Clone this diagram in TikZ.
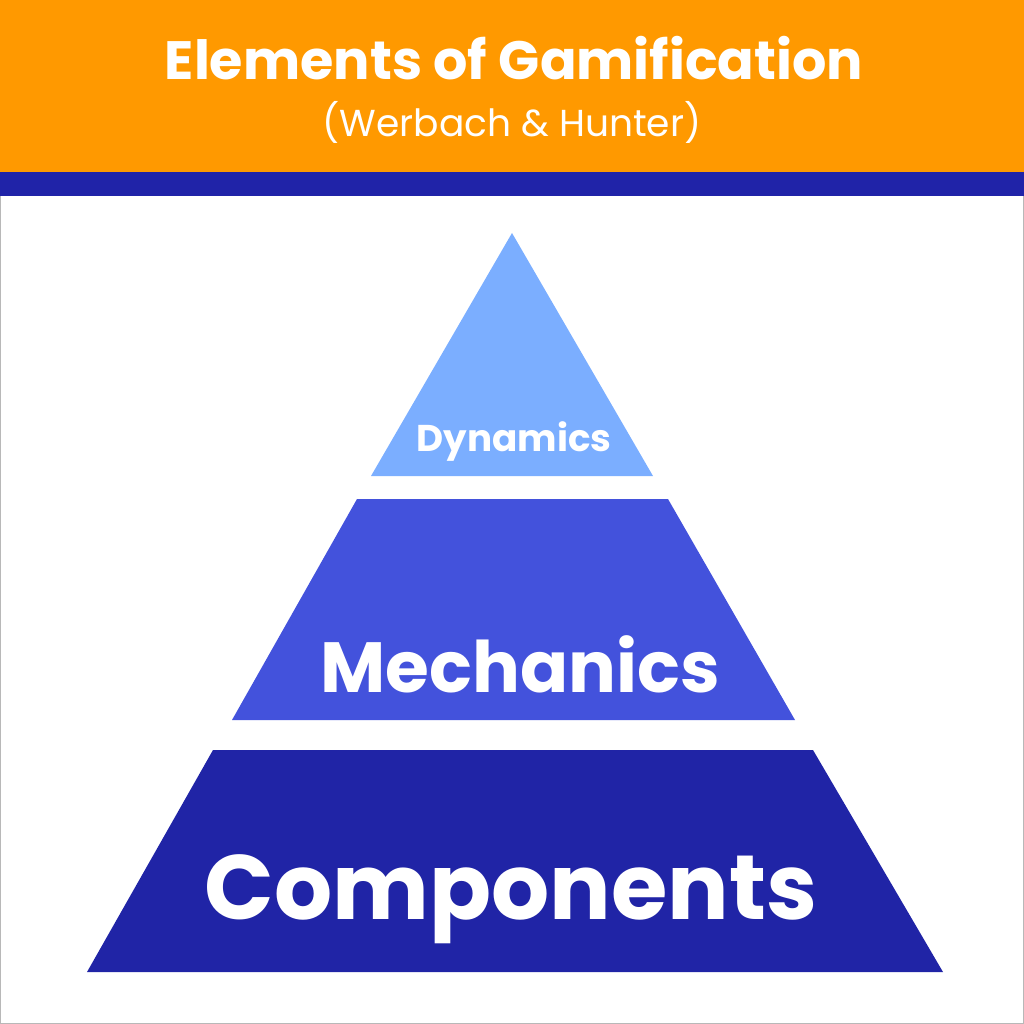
\documentclass[tikz,border=0pt]{standalone}
\usepackage{fontspec}
\setmainfont{Poppins}
\usetikzlibrary{shapes}

\definecolor{headorange}{RGB}{255,153,0}
\definecolor{stripeblue}{RGB}{32,35,168}
\definecolor{levelone}{RGB}{123,174,255}
\definecolor{leveltwo}{RGB}{67,82,220}
\definecolor{levelthree}{RGB}{32,36,166}

\tikzset{
  label text/.style={text=white, font=\bfseries, anchor=base, inner sep=0pt},
  level box/.style={draw=none}
}

\begin{document}
\begin{tikzpicture}[x=0.025cm, y=-0.025cm]
\useasboundingbox (0,0) rectangle (1024,1024);
\draw [color=black!28, line width=0.6pt] (0.5,0) -- (0.5,1023.5) -- (1023.5,1023.5) -- (1023.5,0); % frame
\fill [headorange] (0,0) rectangle (1024,172);
\fill [stripeblue] (0,172) rectangle (1024,196);
\draw (514,80) node[label text, font=\fontsize{38.4}{40}\selectfont\bfseries] (title) {Elements of Gamification};
\draw (512,137) node[label text, font=\fontsize{26.7}{28}\selectfont] (source) {(Werbach \& Hunter)};
\fill [level box, levelone] (512,233) -- (653,476) -- (371,476) -- cycle;
\fill [level box, leveltwo] (357,499) -- (668,499) -- (795,720) -- (232,720) -- cycle;
\fill [level box, levelthree] (213,750) -- (813,750) -- (943,972) -- (87,972) -- cycle;
\draw (514,451) node[label text, font=\fontsize{26.5}{28}\selectfont\bfseries] (dyn) {Dynamics};
\draw (520,692) node[label text, font=\fontsize{50.5}{52}\selectfont\bfseries] (mech) {Mechanics};
\draw (511,919) node[label text, font=\fontsize{65}{67}\selectfont\bfseries] (comp) {Components};
\end{tikzpicture}
\end{document}
